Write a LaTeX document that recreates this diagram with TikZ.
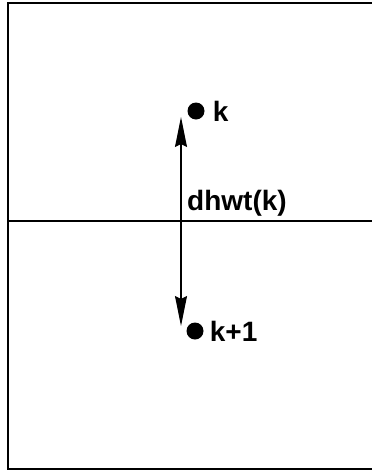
\documentclass[tikz,border=0pt]{standalone}
\usepackage{fontspec}
\setmainfont{Liberation Sans}
\usetikzlibrary{arrows.meta,positioning}

\begin{document}
\begin{tikzpicture}[
    x=1pt, y=-1pt,
    frame/.style={line width=1.5pt, line cap=rect},
    dotnode/.style={circle, fill=black, inner sep=0pt, minimum size=17pt},
    lbl/.style={font=\fontsize{28}{32}\selectfont\bfseries, inner sep=0pt, anchor=west},
    span/.style={line width=1.2pt, {Stealth[length=30pt,width=12pt,inset=3pt]}-{Stealth[length=30pt,width=12pt,inset=3pt]}},
]
\useasboundingbox (0,0) rectangle (372,472);
% box and dividing line
\draw[frame] (372,3) -- (8,3) -- (8,469) -- (372,469);
\draw[line width=1.2pt] (8,221) -- (372,221);

\node[dotnode] (kdot)  at (196,111) {};
\node[dotnode] (k1dot) at (195,331) {};
\node[lbl, right=8pt of kdot]  (klbl)  {k};
\node[lbl, right=6pt of k1dot] (k1lbl) {k+1};

\coordinate (top) at (181,117);
\coordinate (bot) at (181,326);
\draw[span] (top) -- (bot);
\node[lbl] (dist) at (187,203) {dhwt(k)};
\end{tikzpicture}
\end{document}
